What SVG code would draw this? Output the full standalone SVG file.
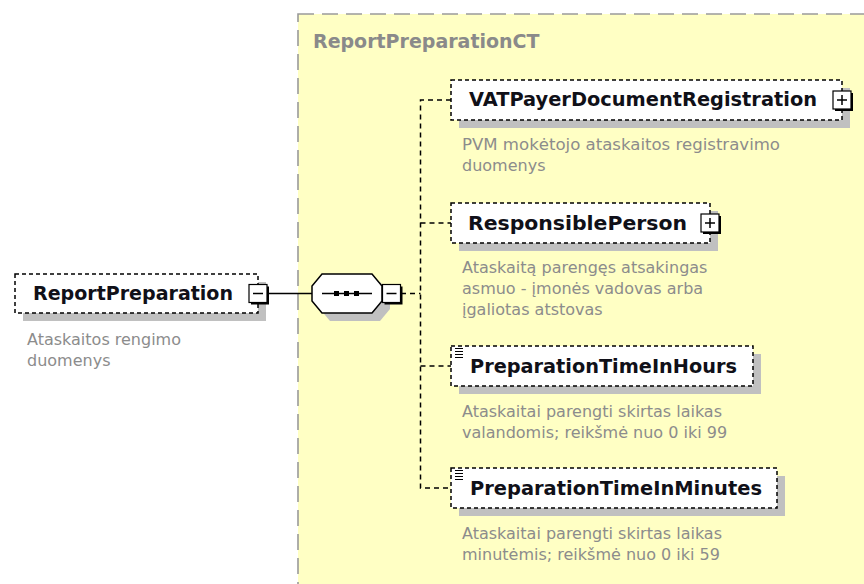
<svg xmlns="http://www.w3.org/2000/svg" width="864" height="584" viewBox="0 0 864 584">
<defs>
<style>
.lbl{font-family:"DejaVu Sans","Verdana",sans-serif;font-weight:bold;font-size:19px;fill:#101018}
.hdr{font-family:"DejaVu Sans","Verdana",sans-serif;font-weight:bold;font-size:19px;fill:#8a8a8a}
.desc{font-family:"DejaVu Sans","Verdana",sans-serif;font-size:16px;fill:#8c8c8c}
.box{fill:#ffffff;stroke:#000;stroke-width:1.5;stroke-dasharray:4 3}
.shadow{fill:#c0c0c0}
.conn{fill:none;stroke:#000;stroke-width:1.5;stroke-dasharray:5 4}
.solid{fill:none;stroke:#000;stroke-width:1.5}
.btn{fill:#fff;stroke:#000;stroke-width:1.2}
</style>
<g id="minusbtn">
<rect x="-7" y="-7" width="18" height="18" fill="#000"/>
<rect x="-9" y="-9" width="18" height="18" class="btn"/>
<line x1="-5" y1="0" x2="5" y2="0" stroke="#000" stroke-width="1.5"/>
</g>
<g id="plusbtn">
<rect x="-7" y="-7" width="18" height="18" fill="#000"/>
<rect x="-9" y="-9" width="18" height="18" class="btn"/>
<line x1="-5" y1="0" x2="5" y2="0" stroke="#000" stroke-width="1.5"/>
<line x1="0" y1="-5" x2="0" y2="5" stroke="#000" stroke-width="1.5"/>
</g>
<g id="simpleicon" stroke="#000" stroke-width="1">
<line x1="0" y1="0.5" x2="8" y2="0.5"/>
<line x1="0" y1="3.5" x2="8" y2="3.5"/>
<line x1="0" y1="6.5" x2="8" y2="6.5"/>
<line x1="0" y1="9.5" x2="8" y2="9.5"/>
</g>
</defs>
<rect x="0" y="0" width="864" height="584" fill="#ffffff"/>

<g id="ReportPreparationCT">
<rect x="298" y="14" width="620" height="620" fill="#ffffc4" stroke="#9a9a9a" stroke-width="1.6" stroke-dasharray="16 8"/>
<text class="hdr" x="313" y="48">ReportPreparationCT</text>
</g>

<g id="connectors">
<path class="solid" d="M267 293.5 H312"/>
<path class="conn" d="M401 293.5 H420.5"/>
<path class="conn" d="M451 100 H420.5 V488 H451"/>
<path class="conn" d="M420.5 223 H451"/>
<path class="conn" d="M420.5 366 H451"/>
</g>

<g id="node-ReportPreparation">
<rect class="shadow" x="23" y="282" width="243" height="39"/>
<rect class="box" x="15" y="274" width="243" height="39"/>
<text class="lbl" x="33" y="300" textLength="200" lengthAdjust="spacingAndGlyphs">ReportPreparation</text>
<use href="#minusbtn" x="258" y="293.5"/>
<text class="desc" x="27" y="345">Ataskaitos rengimo</text>
<text class="desc" x="27" y="366">duomenys</text>
</g>

<g id="node-sequence">
<polygon class="shadow" points="330,282 380,282 390,294 390,309 380,321 330,321 320,309 320,294"/>
<polygon points="322,274 372,274 382,286 382,301 372,313 322,313 312,301 312,286" fill="#fff" stroke="#000" stroke-width="1.5"/>
<line x1="322" y1="293.5" x2="372" y2="293.5" stroke="#000" stroke-width="1.5"/>
<rect x="334" y="291" width="5" height="5" fill="#000"/>
<rect x="344" y="291" width="5" height="5" fill="#000"/>
<rect x="354" y="291" width="5" height="5" fill="#000"/>
<use href="#minusbtn" x="391.5" y="293.5"/>
</g>

<g id="node-VATPayerDocumentRegistration">
<rect class="shadow" x="459" y="88" width="391" height="40"/>
<rect class="box" x="451" y="80" width="391" height="40"/>
<text class="lbl" x="469" y="106" textLength="348" lengthAdjust="spacingAndGlyphs">VATPayerDocumentRegistration</text>
<use href="#plusbtn" x="842" y="100"/>
<text class="desc" x="462" y="150" textLength="318" lengthAdjust="spacingAndGlyphs">PVM mokėtojo ataskaitos registravimo</text>
<text class="desc" x="462" y="171">duomenys</text>
</g>

<g id="node-ResponsiblePerson">
<rect class="shadow" x="459" y="211" width="259" height="40"/>
<rect class="box" x="451" y="203" width="259" height="40"/>
<text class="lbl" x="468" y="229.5" textLength="219" lengthAdjust="spacingAndGlyphs">ResponsiblePerson</text>
<use href="#plusbtn" x="710" y="223"/>
<text class="desc" x="462" y="273">Ataskaitą parengęs atsakingas</text>
<text class="desc" x="462" y="294">asmuo - įmonės vadovas arba</text>
<text class="desc" x="462" y="315">įgaliotas atstovas</text>
</g>

<g id="node-PreparationTimeInHours">
<rect class="shadow" x="459" y="354" width="302" height="40"/>
<rect class="box" x="451" y="346" width="302" height="40"/>
<use href="#simpleicon" x="455" y="348"/>
<text class="lbl" x="470" y="373" textLength="267" lengthAdjust="spacingAndGlyphs">PreparationTimeInHours</text>
<text class="desc" x="462" y="417">Ataskaitai parengti skirtas laikas</text>
<text class="desc" x="462" y="438">valandomis; reikšmė nuo 0 iki 99</text>
</g>

<g id="node-PreparationTimeInMinutes">
<rect class="shadow" x="459" y="476" width="326" height="40"/>
<rect class="box" x="451" y="468" width="326" height="40"/>
<use href="#simpleicon" x="455" y="470"/>
<text class="lbl" x="470" y="495" textLength="292" lengthAdjust="spacingAndGlyphs">PreparationTimeInMinutes</text>
<text class="desc" x="462" y="539">Ataskaitai parengti skirtas laikas</text>
<text class="desc" x="462" y="560">minutėmis; reikšmė nuo 0 iki 59</text>
</g>
</svg>
